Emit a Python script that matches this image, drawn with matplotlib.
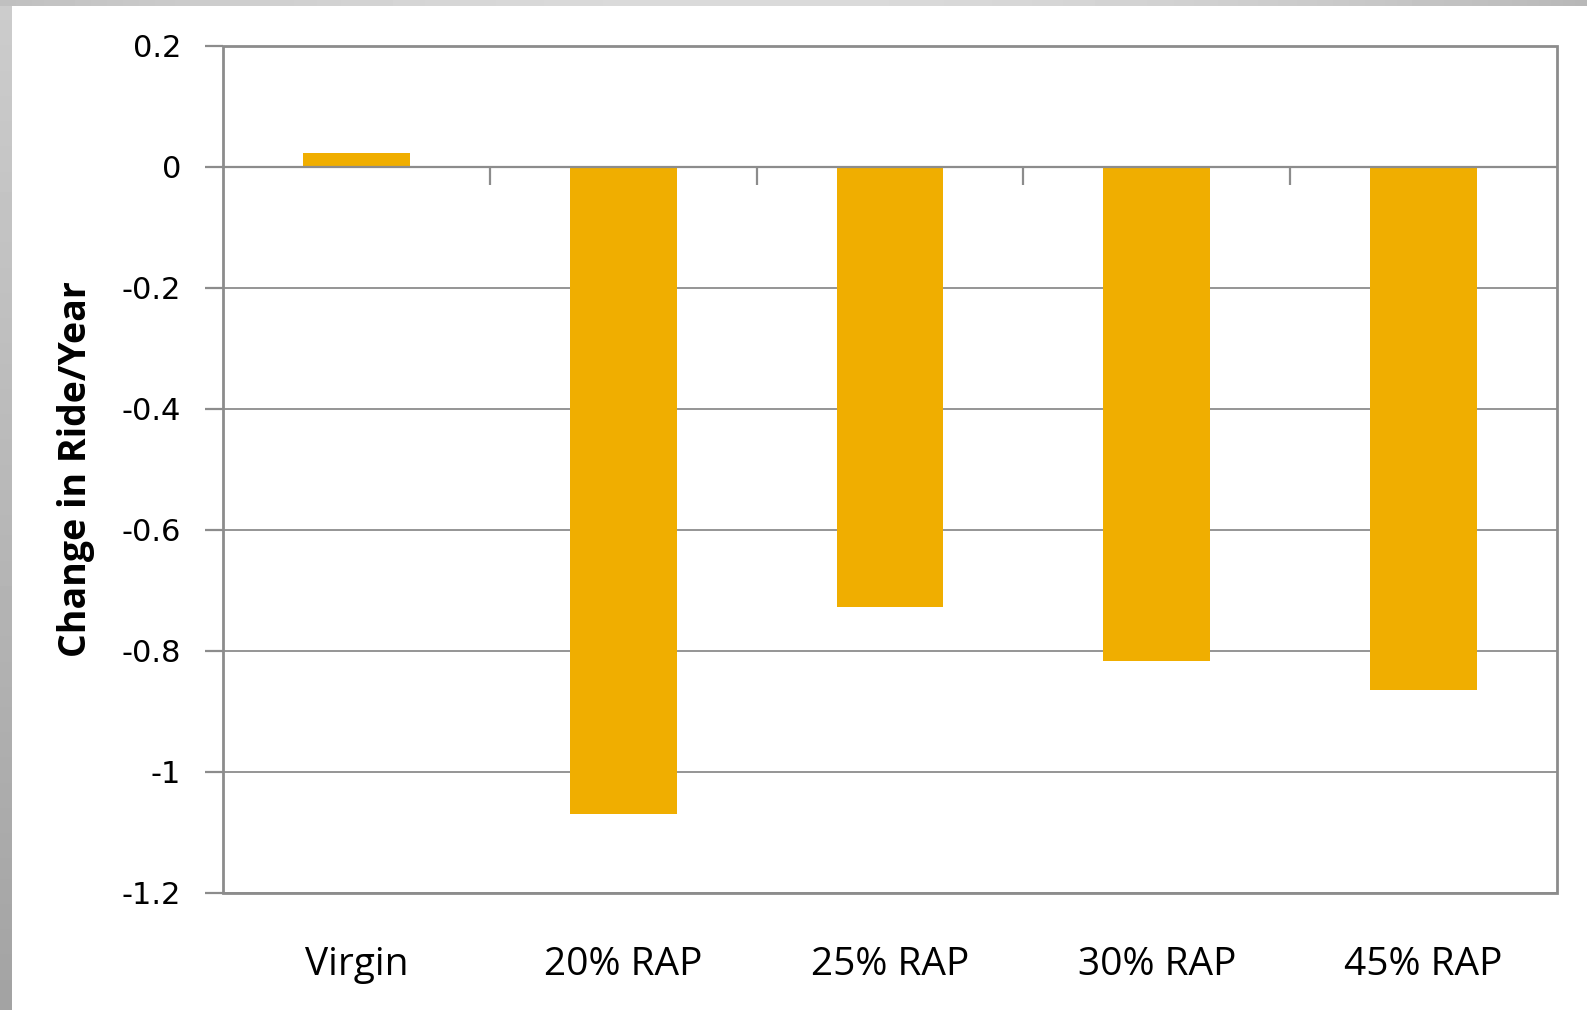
import numpy as np
import matplotlib
matplotlib.use("Agg")
import matplotlib.pyplot as plt
from matplotlib.patches import Rectangle
import matplotlib.transforms as mtransforms

# mixes and their change in ride quality per year
categories = ["Virgin", "20% RAP", "25% RAP", "30% RAP", "45% RAP"]
ride_change = [0.023, -1.07, -0.728, -0.817, -0.865]
yticks = [0.2, 0, -0.2, -0.4, -0.6, -0.8, -1, -1.2]
ytick_labels = ["0.2", "0", "-0.2", "-0.4", "-0.6", "-0.8", "-1", "-1.2"]

BAR = "#F0AE00"
GRID = "#8C8C8C"
FONT = ["Open Sans", "DejaVu Sans"]

W, H = 1587, 1010
fig = plt.figure(figsize=(W / 100, H / 100), dpi=100)
fig.patch.set_facecolor("white")

# grey slide edges: vertical strip on the left, horizontal strip along the top
left_strip = fig.add_axes([0, 0, 12 / W, 1])
left_strip.imshow(np.linspace(0.80, 0.64, 200)[:, None], cmap="gray",
                  vmin=0, vmax=1, aspect="auto")
left_strip.axis("off")
xs = np.linspace(0, 1, 400)
top_vals = 0.87 - 0.12 * (2 * xs - 1) ** 2 - 0.03 * xs
top_strip = fig.add_axes([0, 1 - 6 / H, 1, 6 / H])
top_strip.imshow(top_vals[None, :], cmap="gray", vmin=0, vmax=1, aspect="auto")
top_strip.axis("off")

ax = fig.add_axes([223 / W, 1 - 892.7 / H, (1557 - 223) / W, (892.7 - 45.7) / H])
x = np.arange(len(categories))
ax.bar(x, ride_change, width=0.4, color=BAR, zorder=3)

ax.set_xlim(-0.5, len(categories) - 0.5)
ax.set_ylim(-1.2, 0.2)

# horizontal gridlines
for v in yticks:
    ax.axhline(v, color=GRID, lw=1.3, zorder=1)

# the category axis crosses at zero
ax.spines["bottom"].set_position(("data", 0))
ax.spines["bottom"].set_color(GRID)
ax.spines["bottom"].set_linewidth(1.6)
ax.spines["bottom"].set_zorder(4)
for s in ("top", "right", "left"):
    ax.spines[s].set_visible(False)
ax.add_patch(Rectangle((0, 0), 1, 1, transform=ax.transAxes, fill=False,
                       ec=GRID, lw=2, zorder=5, clip_on=False))

ax.set_xticks(x[:-1] + 0.5)
ax.set_xticklabels([])
ax.tick_params(axis="x", direction="out", length=13, width=1.6, color=GRID)

ax.set_yticks(yticks)
ax.set_yticklabels(ytick_labels, fontsize=22, family="DejaVu Sans")
ax.tick_params(axis="y", direction="out", length=13, width=1.6, color=GRID,
               pad=17)

# category names sit below the plot frame
trans = mtransforms.blended_transform_factory(ax.transData, ax.transAxes)
for xi, name in zip(x, categories):
    ax.text(xi, -0.085, name, transform=trans, ha="center", va="center",
            fontsize=28, family=FONT)

fig.text(76 / W, 1 - 469 / H, "Change in Ride/Year", rotation=90,
         ha="center", va="center", fontsize=27, fontweight="bold", family=FONT)

fig.savefig("out.png", dpi=100, facecolor="white")
